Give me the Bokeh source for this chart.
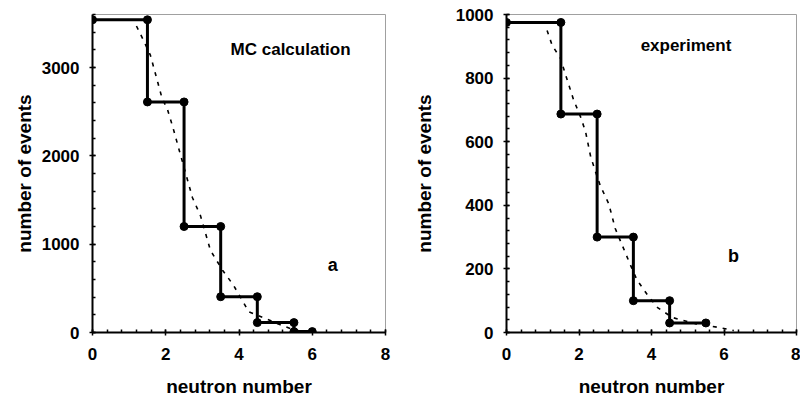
from bokeh.plotting import figure
from bokeh.layouts import row
from bokeh.models import Range1d, SingleIntervalTicker, Label
from bokeh.embed import file_html
from bokeh.resources import INLINE

# ---- data: panel a (MC calculation) ----
a_left = [0, 1.5, 2.5, 3.5, 4.5, 5.5]
a_right = [1.5, 2.5, 3.5, 4.5, 5.5, 6.0]
a_counts = [3540, 2610, 1200, 405, 112, 10]
a_fit_x = [1.2, 1.39, 1.58, 1.78, 1.9, 2.04, 2.2, 2.4, 2.73, 2.95, 3.22, 3.55, 3.85, 4.27, 4.68, 5.13, 5.5]
a_fit_y = [3470, 3310, 3140, 2835, 2650, 2535, 2315, 2015, 1525, 1320, 930, 705, 535, 233, 165, 87, 30]

# ---- data: panel b (experiment) ----
b_left = [0, 1.5, 2.5, 3.5, 4.5]
b_right = [1.5, 2.5, 3.5, 4.5, 5.5]
b_counts = [975, 687, 300, 100, 30]
b_fit_x = [1.12, 1.26, 1.49, 1.63, 1.85, 2.04, 2.18, 2.32, 2.46, 2.59, 2.82, 3.0, 3.42, 3.6, 3.89, 4.17, 4.58, 5.2, 5.85, 6.27]
b_fit_y = [950, 903, 862, 810, 732, 679, 632, 554, 504, 461, 405, 327, 212, 165, 118, 78, 47, 28, 16, 6]

x_ticks_interval = 2
FONT = "Liberation Sans"


def step_vertices(lefts, rights, counts):
    xs, ys = [], []
    for l, r, c in zip(lefts, rights, counts):
        xs += [l, r]
        ys += [c, c]
    return xs, ys


def make_panel(lefts, rights, counts, fx, fy, y_end, y_int, width, mb_left, mb_right,
               mb_top, mb_bottom, ylabel_standoff, title, title_xy, letter, letter_xy):
    p = figure(width=width, height=399, output_backend="svg", toolbar_location=None,
               x_range=Range1d(0, 8), y_range=Range1d(0, y_end),
               min_border_left=mb_left, min_border_right=mb_right,
               min_border_top=mb_top, min_border_bottom=mb_bottom)
    p.grid.visible = False
    p.outline_line_color = "#a0a0a0"
    p.outline_line_width = 1
    p.background_fill_color = "white"
    p.border_fill_color = "white"

    p.xaxis.ticker = SingleIntervalTicker(interval=x_ticks_interval, num_minor_ticks=5)
    p.yaxis.ticker = SingleIntervalTicker(interval=y_int, num_minor_ticks=5)
    for ax in (p.xaxis, p.yaxis):
        ax.axis_line_width = 2
        ax.axis_line_color = "black"
        ax.major_tick_in = 3
        ax.major_tick_out = 3
        ax.minor_tick_in = 3
        ax.minor_tick_out = 0
        ax.major_tick_line_width = 1.5
        ax.minor_tick_line_width = 1.5
        ax.major_label_text_font = FONT
        ax.major_label_text_font_style = "bold"
        ax.major_label_text_font_size = "17px"
        ax.major_label_text_color = "black"
        ax.axis_label_text_font = FONT
        ax.axis_label_text_font_style = "bold"
        ax.axis_label_text_font_size = "19px"
        ax.axis_label_text_color = "black"
    p.xaxis.axis_label = "neutron number"
    p.yaxis.axis_label = "number of events"
    p.xaxis.major_label_standoff = 12
    p.yaxis.major_label_standoff = 10
    p.xaxis.axis_label_standoff = 13
    p.yaxis.axis_label_standoff = ylabel_standoff

    # fit curve (dash-dot)
    p.line(fx, fy, line_color="black", line_width=1.6, line_dash="4 6")

    xs, ys = step_vertices(lefts, rights, counts)
    p.line(xs, ys, line_color="black", line_width=3)
    p.scatter(xs, ys, size=8, color="black")

    p.add_layout(Label(x=title_xy[0], y=title_xy[1], text=title, text_font=FONT,
                       text_font_style="bold", text_font_size="17px", text_color="black",
                       text_baseline="middle", text_align="left"))
    p.add_layout(Label(x=letter_xy[0], y=letter_xy[1], text=letter, text_font=FONT,
                       text_font_style="bold", text_font_size="18px", text_color="black",
                       text_baseline="middle", text_align="center"))
    return p


pa = make_panel(a_left, a_right, a_counts, a_fit_x, a_fit_y, 3600, 1000,
                400, 92, 15, 11, 66, 4, "MC calculation", (3.77, 3200), "a", (6.56, 760))
pb = make_panel(b_left, b_right, b_counts, b_fit_x, b_fit_y, 1000, 200,
                400, 106, 4, 14, 64, 18, "experiment", (3.7, 903), "b", (6.26, 240))

layout = row(pa, pb)
open("out.html", "w").write(file_html(layout, INLINE))
